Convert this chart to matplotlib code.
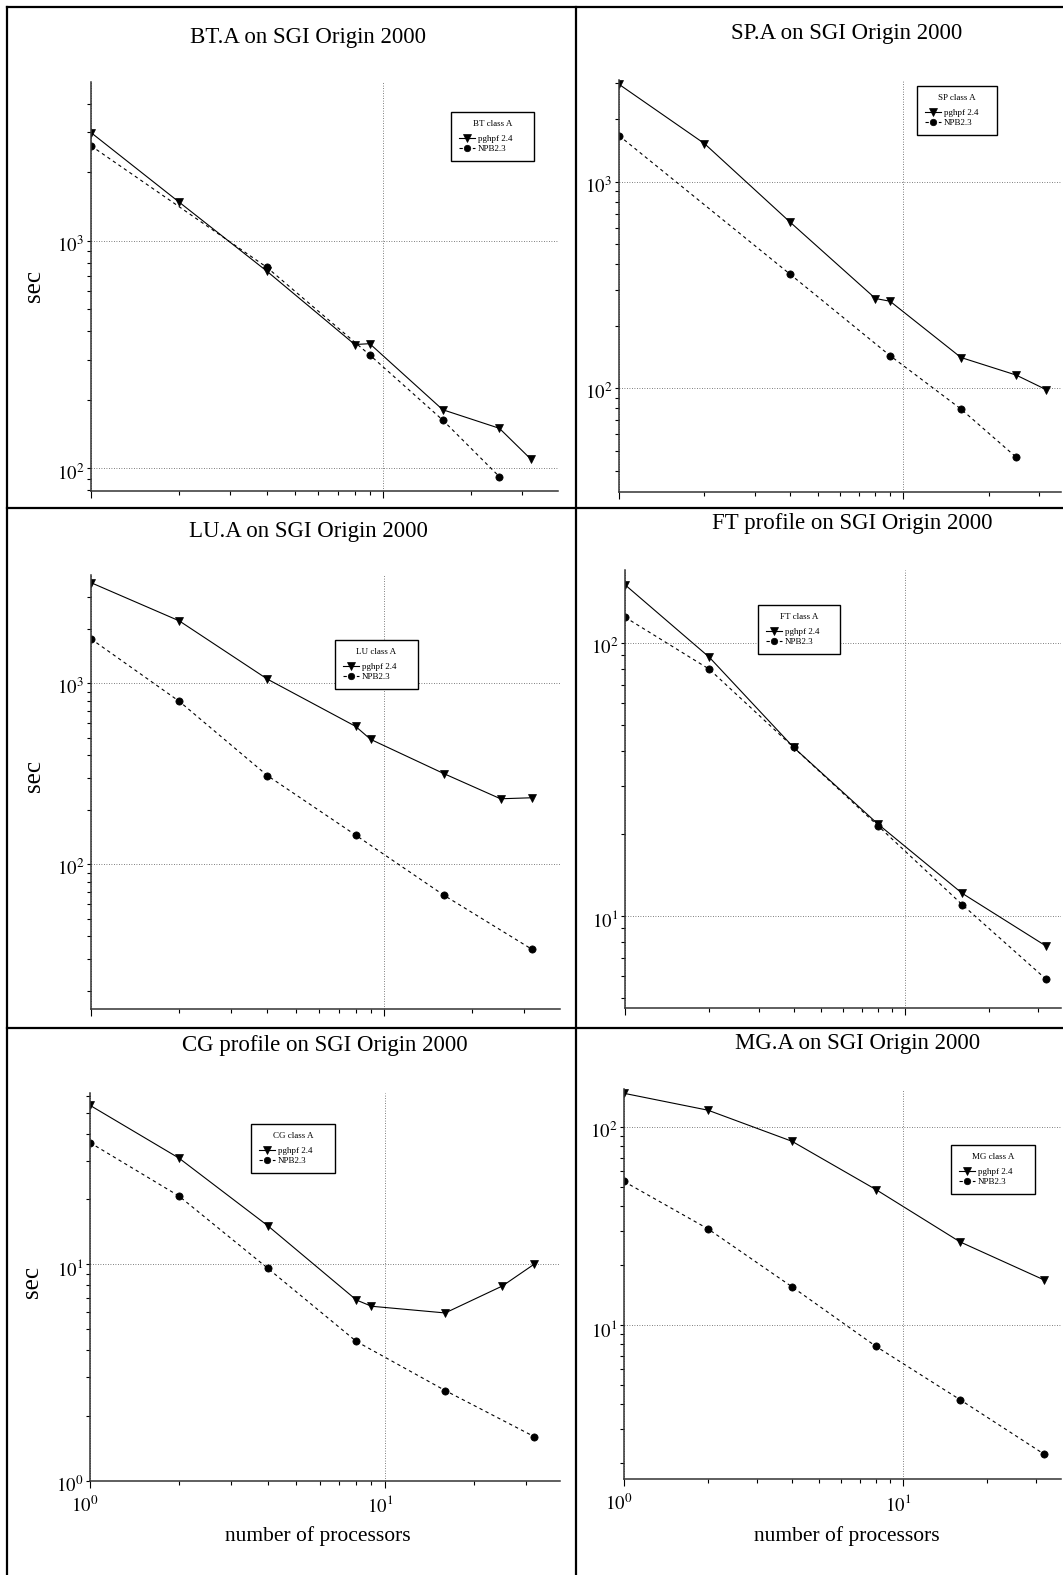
import matplotlib
matplotlib.use('Agg')
import matplotlib.pyplot as plt
import numpy as np
from matplotlib.ticker import LogLocator, NullFormatter, FixedLocator, FuncFormatter
from matplotlib.lines import Line2D
from matplotlib.transforms import ScaledTranslation

plt.rcParams['font.family'] = ['Liberation Serif', 'DejaVu Serif']
plt.rcParams['mathtext.fontset'] = 'stix'

# ---------------- data ----------------
procs_hpf = [1, 2, 4, 8, 9, 16, 25, 32]
procs_sq = [1, 4, 9, 16, 25]
procs_pow2 = [1, 2, 4, 8, 16, 32]

bt_hpf = [2985, 1480, 735, 350, 353, 181, 150, 110]
bt_npb = [2612, 764, 315, 163, 92]
sp_hpf = [2960, 1528, 638, 272, 264, 141, 116, 98.4]
sp_npb = [1671, 357, 144, 79.4, 46.5]
lu_hpf = [3594, 2212, 1054, 578, 490, 317, 230, 233]
lu_npb = [1758, 795, 309, 145, 67.5, 33.9]
ft_hpf = [163, 88.5, 41.4, 21.7, 12.1, 7.74]
ft_npb = [124, 80, 41.4, 21.4, 11.0, 5.85]
cg_hpf = [54.3, 31.0, 15.1, 6.84, 6.4, 5.96, 7.94, 10.0]
cg_npb = [36.5, 20.7, 9.6, 4.4, 2.61, 1.6]
mg_hpf = [148, 121.6, 84.7, 48.3, 26.3, 16.9]
mg_npb = [53.1, 30.6, 15.6, 7.8, 4.2, 2.23]

titles = ["BT.A on SGI Origin 2000", "SP.A on SGI Origin 2000",
          "LU.A on SGI Origin 2000", "FT profile on SGI Origin 2000",
          "CG profile on SGI Origin 2000", "MG.A on SGI Origin 2000"]
legend_titles = ["BT class A", "SP class A", "LU class A",
                 "FT class A", "CG class A", "MG class A"]
series_labels = ["pghpf 2.4", "NPB2.3"]
ylabel = "sec"
xlabel = "number of processors"

series = [
    (procs_hpf, bt_hpf, procs_sq, bt_npb),
    (procs_hpf, sp_hpf, procs_sq, sp_npb),
    (procs_hpf, lu_hpf, procs_pow2, lu_npb),
    (procs_pow2, ft_hpf, procs_pow2, ft_npb),
    (procs_hpf, cg_hpf, procs_pow2, cg_npb),
    (procs_pow2, mg_hpf, procs_pow2, mg_npb),
]

# ---------------- layout (pixels) ----------------
W, H, DPI = 1063, 1575, 100
layout = [
    dict(box=(91, 557.7, 82, 490.7), xmax=39.6, ylim=(79.8, 4980)),
    dict(box=(619, 1061, 80, 492.3), xmax=36.0, ylim=(31.4, 3105)),
    dict(box=(91, 560, 575, 1009.3), xmax=39.9, ylim=(15.8, 3963)),
    dict(box=(625, 1061, 570, 1007.7), xmax=36.1, ylim=(4.61, 184.6)),
    dict(box=(90, 560, 1093, 1480.7), xmax=39.2, ylim=(1.0, 61.9)),
    dict(box=(624, 1061, 1089, 1479), xmax=36.8, ylim=(1.67, 155.6)),
]
title_pos = [(308, 38), (847, 33), (308, 532), (852, 524), (325, 1045), (858, 1043)]
legend_box = [(451, 112, 83, 52), (917, 86, 80, 50), (335, 640, 83, 50),
              (758, 605, 82, 50), (251, 1124, 84, 46), (951, 1145, 84, 48)]
ylabel_pos = [(34, 286), None, (34, 776), None, (32, 1282), None]
xlabel_pos = [None, None, None, None, (318, 1536), (847, 1536)]

fig = plt.figure(figsize=(W / DPI, H / DPI), dpi=DPI)


def fx(px):
    return px / W


def fy(py):
    return 1 - py / H


for i, (lay, ser) in enumerate(zip(layout, series)):
    l, r, t, b = lay['box']
    ax = fig.add_axes([fx(l), fy(b), fx(r) - fx(l), fy(t) - fy(b)])
    ax.patch.set_alpha(0)
    ax.set_xscale('log')
    ax.set_yscale('log')
    ax.set_xlim(1, lay['xmax'])
    ax.set_ylim(*lay['ylim'])

    xh, yh, xn, yn = ser
    h1, = ax.plot(xh, yh, color='black', lw=0.8, marker='v', ms=5.8,
                  markeredgewidth=0.5, label=series_labels[0])
    h2, = ax.plot(xn, yn, color='black', lw=0.8, ls=(0, (3, 3)), marker='o',
                  ms=5.2, markeredgewidth=0.5, label=series_labels[1])

    for s in ['top', 'right']:
        ax.spines[s].set_visible(False)
    for s in ['left', 'bottom']:
        ax.spines[s].set_color('#333333')
        ax.spines[s].set_linewidth(1.1)

    ax.xaxis.set_major_locator(FixedLocator([1, 10]))
    ax.xaxis.set_minor_locator(LogLocator(base=10, subs=np.arange(2, 10), numticks=20))
    ax.xaxis.set_minor_formatter(NullFormatter())
    lo, hi = lay['ylim']
    decades = [10.0 ** k for k in range(int(np.floor(np.log10(lo))), int(np.ceil(np.log10(hi))) + 1)
               if lo * 0.999 <= 10.0 ** k <= hi * 1.001]
    ax.yaxis.set_major_locator(FixedLocator(decades))
    ax.yaxis.set_minor_locator(LogLocator(base=10, subs=np.arange(2, 10), numticks=20))
    ax.yaxis.set_minor_formatter(NullFormatter())
    ax.yaxis.set_major_formatter(FuncFormatter(lambda v, p: r'$10^{%d}$' % round(np.log10(v))))
    if i >= 4:
        ax.xaxis.set_major_formatter(FuncFormatter(lambda v, p: r'$10^{%d}$' % round(np.log10(v))))
    else:
        ax.xaxis.set_major_formatter(NullFormatter())

    ax.tick_params(axis='x', which='major', direction='out', length=5, width=0.8, pad=5.5, labelsize=13.5)
    ax.tick_params(axis='x', which='minor', direction='out', length=3, width=0.8)
    ax.tick_params(axis='y', which='major', direction='out', length=3, width=0.8, pad=2, labelsize=13.5)
    ax.tick_params(axis='y', which='minor', direction='out', length=3, width=0.8)

    ax.grid(which='major', color='#555555', lw=0.6, ls=(0, (1, 2)))

    for tk in ax.yaxis.get_major_ticks():
        tk.label1.set_transform(tk.label1.get_transform() +
                                ScaledTranslation(0, -3 / DPI, fig.dpi_scale_trans))
    for tk in ax.xaxis.get_major_ticks():
        tk.label1.set_transform(tk.label1.get_transform() +
                                ScaledTranslation(-5 / DPI, 0, fig.dpi_scale_trans))

    lx, ly, lw_, lh = legend_box[i]
    leg = ax.legend(handles=[h1, h2], labels=series_labels, title=legend_titles[i],
                    loc='upper left', bbox_to_anchor=(fx(lx), fy(ly + lh), lw_ / W, lh / H),
                    bbox_transform=fig.transFigure, mode='expand', fontsize=6.5,
                    title_fontsize=6.5, frameon=True, fancybox=False, edgecolor='black',
                    framealpha=1, borderpad=0.9, handlelength=1.8, handletextpad=0.3,
                    labelspacing=0.15, borderaxespad=0, markerscale=0.9)
    leg.get_frame().set_linewidth(1.0)
    leg._legend_box.sep = 5

    tx, ty = title_pos[i]
    fig.text(fx(tx), fy(ty), titles[i], ha='center', va='center', fontsize=16.5)
    if ylabel_pos[i]:
        px, py = ylabel_pos[i]
        fig.text(fx(px), fy(py), ylabel, ha='center', va='center', rotation=90, fontsize=18)
    if xlabel_pos[i]:
        px, py = xlabel_pos[i]
        fig.text(fx(px), fy(py), xlabel, ha='center', va='center', fontsize=15.5)

frame_lines = [
    ((7, 7), (7, 1575)),
    ((7, 1063), (7, 7)),
    ((576, 576), (7, 1575)),
    ((7, 1063), (508, 508)),
    ((7, 1063), (1028, 1028)),
]
for (xs, ys) in frame_lines:
    fig.add_artist(Line2D([fx(x) for x in xs], [fy(y) for y in ys],
                          transform=fig.transFigure, color='black', lw=1.6))

fig.savefig('out.png', dpi=DPI)
